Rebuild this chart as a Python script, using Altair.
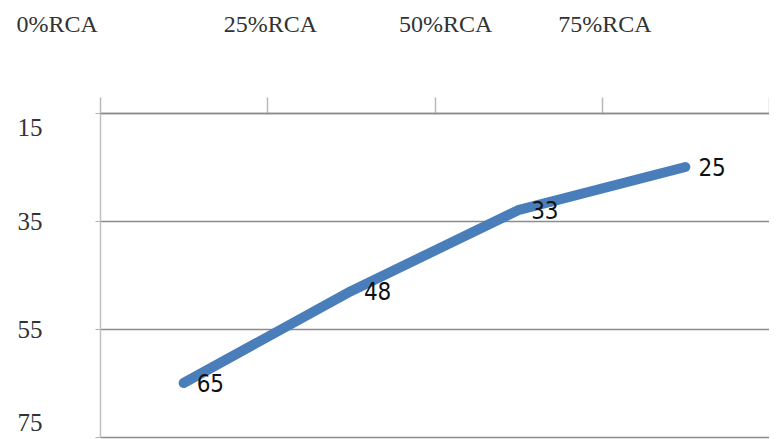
import altair as alt
import pandas as pd

categories = ["0%RCA", "25%RCA", "50%RCA", "75%RCA"]
values = [65, 48, 33, 25]
y_ticks = [15, 35, 55, 75]

df = pd.DataFrame({"cat": categories, "val": values})

x_enc = alt.X(
    "cat:N",
    sort=categories,
    scale=alt.Scale(paddingInner=0, paddingOuter=0),
    axis=alt.Axis(
        orient="top",
        title=None,
        labelAngle=0,
        tickBand="extent",
        tickSize=16,
        tickColor="#b8b8b8",
        tickWidth=1.5,
        domain=True,
        domainColor="#8c8c8c",
        domainWidth=1.5,
        grid=False,
        labelFont="Liberation Serif",
        labelFontSize=24,
        labelColor="#333333",
        labelPadding=61,
        labelOffset={"condition": [{"test": "datum.value == '0%RCA'", "value": -127},
                                   {"test": "datum.value == '50%RCA'", "value": -73}],
                     "value": -81},
    ),
)

y_enc = alt.Y(
    "val:Q",
    scale=alt.Scale(domain=[15, 75], reverse=True, nice=False, zero=False),
    axis=alt.Axis(
        title=None,
        values=y_ticks,
        grid=True,
        gridColor="#8c8c8c",
        gridWidth=1.5,
        domain=True,
        domainColor="#c0c0c0",
        domainWidth=1.5,
        tickSize=5,
        tickColor="#b0b0b0",
        labelFont="Liberation Serif",
        labelFontSize=25,
        labelColor="#333333",
        labelPadding=53,
        labelOffset={"condition": [{"test": "datum.value == 15", "value": 14},
                                   {"test": "datum.value == 75", "value": -15}],
                     "value": 0},
    ),
)

base = alt.Chart(df).encode(x=x_enc, y=y_enc)

line = base.mark_line(color="#4a7ebb", strokeWidth=10, strokeCap="round", strokeJoin="round")
labels = base.mark_text(
    align="left", baseline="middle", dx=13, dy=2,
    font="Liberation Sans Narrow, DejaVu Sans Condensed, sans-serif",
    fontSize=24, color="#111111",
).encode(text="val:Q")

chart = (
    alt.layer(line, labels)
    .properties(
        width=669,
        height=324,
        autosize=alt.AutoSizeParams(type="none"),
        padding={"left": 92, "top": 105, "right": 0, "bottom": 2},
    )
    .configure_view(stroke=None)
    .configure(background="white")
)

chart.save("out.html", embed_options={"renderer": "svg", "actions": False})
